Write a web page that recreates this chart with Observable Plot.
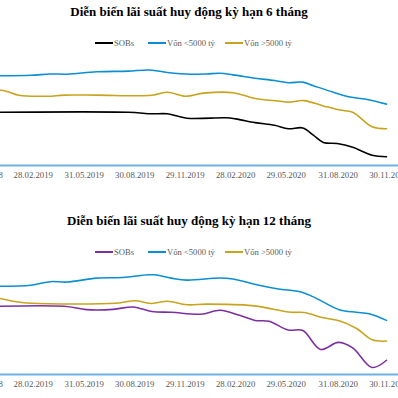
<!DOCTYPE html>
<html>
<head>
<meta charset="utf-8">
<script src="https://cdn.jsdelivr.net/npm/d3@7"></script>
<script src="https://cdn.jsdelivr.net/npm/@observablehq/plot@0.6"></script>
<style>
  html, body { margin: 0; padding: 0; background: #fff; }
  #root { position: relative; width: 398px; height: 398px; overflow: hidden; background: #fff; }
  .title { position: absolute; left: 0; width: 378px; text-align: center; font-family: "Liberation Serif", "Times New Roman", serif; font-weight: bold; font-size: 13px; line-height: 15px; color: #000; white-space: nowrap; }
  .leg { position: absolute; height: 12px; font-family: "Liberation Serif", "Times New Roman", serif; font-size: 8.6px; line-height: 12px; color: #595959; white-space: nowrap; }
  .sw { position: absolute; top: 5px; width: 18px; height: 2px; }
  .plotwrap { position: absolute; left: -50px; }
  #root svg text { font-family: "Liberation Serif", "Times New Roman", serif !important; font-size: 9px; fill: #595959; }
</style>
</head>
<body>
<div id="root"></div>
<script>
// ---- data ----
const seriesNames = ["SOBs", "Vốn <5000 tỷ", "Vốn >5000 tỷ"];
const titles = ["Diễn biến lãi suất huy động kỳ hạn 6 tháng", "Diễn biến lãi suất huy động kỳ hạn 12 tháng"];
const tickDates = ["2018-11-30", "2019-02-28", "2019-05-31", "2019-08-30", "2019-11-29", "2020-02-28", "2020-05-29", "2020-08-31", "2020-11-30"];

// 6-month term (%)
const sobs6 = [["2018-12-29",5.42],["2019-08-18",5.42],["2019-09-30",5.35],["2019-10-28",5.35],["2019-12-02",5.15],["2020-02-10",5.17],["2020-02-28",5.12],["2020-04-03",4.95],["2020-05-08",4.83],["2020-06-02",4.67],["2020-06-28",4.71],["2020-07-17",4.38],["2020-08-04",4.05],["2020-08-29",4.00],["2020-09-26",3.83],["2020-10-31",3.47],["2020-11-26",3.40]];
const small6 = [["2018-12-29",7.08],["2019-02-24",7.10],["2019-03-31",7.16],["2019-04-30",7.15],["2019-06-22",7.26],["2019-08-18",7.29],["2019-09-26",7.34],["2019-10-28",7.23],["2019-12-09",7.15],["2020-01-06",7.16],["2020-01-31",7.19],["2020-02-23",7.12],["2020-04-03",6.97],["2020-05-08",6.86],["2020-06-02",6.76],["2020-06-28",6.79],["2020-07-17",6.63],["2020-08-22",6.33],["2020-09-21",6.11],["2020-10-20",6.01],["2020-11-26",5.79]];
const large6 = [["2018-12-29",6.42],["2019-01-10",6.38],["2019-02-02",6.19],["2019-03-26",6.15],["2019-04-25",6.20],["2019-06-22",6.20],["2019-09-30",6.19],["2019-10-28",6.33],["2019-11-30",6.15],["2020-01-01",6.29],["2020-02-23",6.31],["2020-04-03",6.05],["2020-05-15",5.93],["2020-06-02",5.88],["2020-06-30",5.95],["2020-08-04",5.71],["2020-09-03",5.52],["2020-09-26",5.42],["2020-10-31",4.76],["2020-11-26",4.67]];

// 12-month term (%)
const sobs12 = [["2018-12-29",6.60],["2019-04-25",6.60],["2019-06-04",6.45],["2019-07-22",6.46],["2019-08-27",6.57],["2019-09-30",6.36],["2019-11-04",6.33],["2019-12-27",6.24],["2020-01-31",6.42],["2020-03-06",6.19],["2020-04-03",5.96],["2020-04-28",5.92],["2020-06-02",5.52],["2020-06-28",5.50],["2020-07-30",4.64],["2020-08-31",4.96],["2020-09-26",4.71],["2020-10-31",3.82],["2020-11-26",4.15]];
const small12 = [["2018-12-29",7.51],["2019-02-24",7.56],["2019-03-31",7.72],["2019-04-30",7.70],["2019-06-22",7.88],["2019-08-08",7.91],["2019-09-23",8.03],["2019-10-05",8.03],["2019-11-04",7.88],["2019-12-02",7.79],["2020-01-31",7.89],["2020-02-23",7.84],["2020-04-10",7.56],["2020-05-15",7.39],["2020-06-25",7.25],["2020-07-17",7.03],["2020-09-03",6.43],["2020-10-03",6.33],["2020-10-26",6.26],["2020-11-26",5.96]];
const large12 = [["2018-12-29",6.96],["2019-01-28",6.81],["2019-02-24",6.74],["2019-07-27",6.74],["2019-08-31",6.85],["2019-09-30",6.73],["2019-10-28",6.83],["2019-12-02",6.67],["2020-01-06",6.70],["2020-03-29",6.63],["2020-06-07",6.33],["2020-06-30",6.32],["2020-08-04",6.08],["2020-09-03",5.93],["2020-10-03",5.59],["2020-10-31",5.08],["2020-11-26",5.02]];

const colors6 = ["#000000", "#0a8fd2", "#c8a41e"];
const colors12 = ["#7d2f9f", "#0a8fd2", "#c8a41e"];
const yDomain6 = [3, 8];
const yDomain12 = [3.5, 8.5];

// ---- layout ----
const charts = [
  {top: 0, title: titles[0], data: [sobs6, small6, large6], colors: colors6, yDomain: yDomain6},
  {top: 209, title: titles[1], data: [sobs12, small12, large12], colors: colors12, yDomain: yDomain12}
];
const legendX = [95, 148, 225];
const root = document.getElementById("root");
const parse = d3.utcParse("%Y-%m-%d");

charts.forEach(c => {
  const t = document.createElement("div");
  t.className = "title";
  t.style.top = (c.top + 4) + "px";
  t.textContent = c.title;
  root.appendChild(t);

  seriesNames.forEach((name, i) => {
    const item = document.createElement("div");
    item.className = "leg";
    item.style.top = (c.top + 37) + "px";
    item.style.left = legendX[i] + "px";
    const sw = document.createElement("span");
    sw.className = "sw";
    sw.style.left = "0px";
    sw.style.background = c.colors[i];
    item.appendChild(sw);
    const tx = document.createElement("span");
    tx.style.marginLeft = "19px";
    tx.textContent = name;
    item.appendChild(tx);
    root.appendChild(item);
  });

  const marks = [
    Plot.ruleY([c.yDomain[0]], {stroke: "#6eb1e4", strokeWidth: 2})
  ];
  c.data.forEach((s, i) => {
    marks.push(Plot.line(s, {
      x: d => parse(d[0]),
      y: d => d[1],
      stroke: c.colors[i],
      strokeWidth: 1.6,
      curve: "catmull-rom"
    }));
  });

  const svg = Plot.plot({
    width: 460,
    height: 140,
    marginTop: 0,
    marginBottom: 27,
    marginLeft: 0,
    marginRight: 0,
    style: {fontFamily: "'Liberation Serif', serif", fontSize: "9px", color: "#595959", background: "transparent"},
    x: {
      type: "utc",
      domain: [parse("2018-11-30"), parse("2020-11-30")],
      range: [33.75, 450],
      ticks: tickDates.map(parse),
      tickFormat: d3.utcFormat("%d.%m.%Y"),
      tickSize: 0,
      tickPadding: 6,
      label: null
    },
    y: {domain: c.yDomain, axis: null},
    marks
  });
  const wrap = document.createElement("div");
  wrap.className = "plotwrap";
  wrap.style.top = (c.top + 55) + "px";
  wrap.appendChild(svg);
  root.appendChild(wrap);
});
</script>
</body>
</html>
